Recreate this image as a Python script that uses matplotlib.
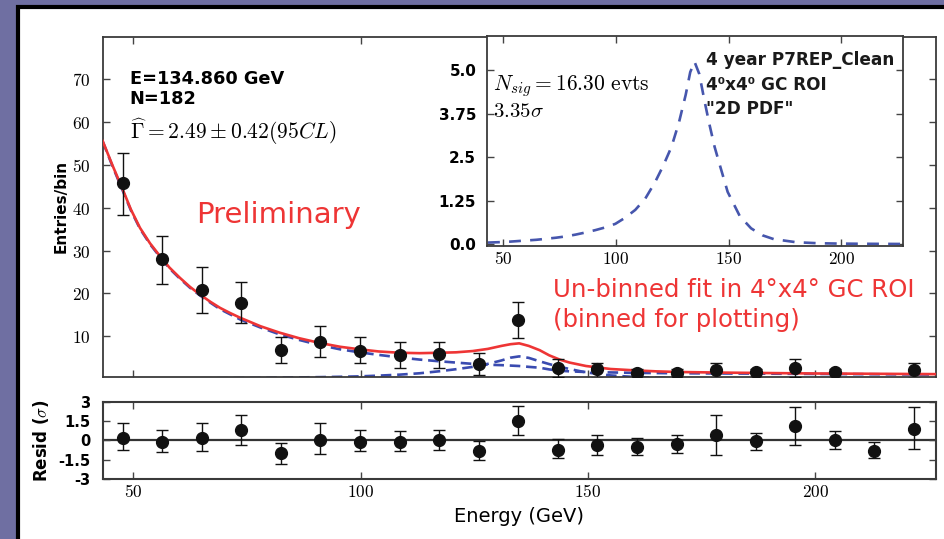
import matplotlib
matplotlib.use("Agg")
import matplotlib.pyplot as plt
from matplotlib.patches import Rectangle

plt.rcParams['mathtext.fontset'] = 'cm'
plt.rcParams['font.family'] = ['DejaVu Sans']

# ---------------- data ----------------
bin_centers = [47.7, 56.4, 65.1, 73.8, 82.5, 91.2, 99.9, 108.6, 117.3, 126.0, 134.7,
               143.4, 152.1, 160.8, 169.5, 178.2, 186.9, 195.6, 204.3, 213.0, 221.7]
counts = [45.7, 28.1, 20.7, 17.8, 6.65, 8.6, 6.5, 5.6, 5.7, 3.5, 13.7,
          2.6, 2.2, 1.4, 1.4, 2.0, 1.5, 2.5, 1.5, float('nan'), 2.0]
counts_hi = [52.8, 33.4, 26.1, 22.6, 9.8, 12.3, 9.8, 8.6, 8.6, 6.1, 17.9,
             4.7, 3.6, 2.2, 2.2, 3.6, 2.2, 4.7, 2.2, float('nan'), 3.6]
counts_lo = [38.2, 22.1, 15.4, 13.0, 3.6, 5.2, 3.6, 2.6, 2.6, 1.0, 9.5,
             0.5, 0.3, 0.1, 0.1, 0.3, 0.1, 0.5, 0.1, float('nan'), 0.3]

resid = [0.18, -0.13, 0.18, 0.82, -0.97, 0.05, -0.13, -0.1, 0.0, -0.79, 1.54,
         -0.72, -0.36, -0.51, -0.26, 0.38, -0.08, 1.13, 0.0, -0.79, 0.9]
resid_hi = [1.34, 0.77, 1.34, 1.95, -0.2, 1.34, 0.77, 0.69, 0.82, -0.08, 2.69,
            0.1, 0.38, 0.18, 0.38, 1.98, 0.57, 2.57, 0.69, -0.13, 2.57]
resid_lo = [-0.72, -0.92, -0.85, -0.33, -1.87, -1.05, -0.85, -0.85, -0.72, -1.56, 0.38,
            -1.36, -1.15, -1.15, -1.02, -1.15, -0.72, -0.33, -0.64, -1.36, -0.64]

model_E = [43.3, 45.5, 47.7, 49.5, 51.5, 53.7, 55.9, 58.0, 60.3, 62.5, 64.7, 67.0, 69.1,
           71.3, 73.5, 78.0, 82.2, 86.5, 91.0, 95.5,
           99.8, 104.0, 108.6, 113.0, 117.4, 121.0, 124.7, 128.0, 131.0, 133.0, 134.9,
           137.0, 139.4, 141.5, 143.8, 146.0, 149.6, 155.0, 160.0, 165.0, 170.0, 180.0,
           190.0, 200.0, 210.0, 226.5]
model_total = [55.6, 49.8, 44.3, 39.6, 35.3, 31.7, 28.7, 26.0, 23.6, 21.5, 19.7, 18.0, 16.6,
               15.4, 14.3, 12.3, 10.8, 9.5, 8.4, 7.5,
               6.9, 6.4, 6.1, 6.0, 6.1, 6.2, 6.5, 7.0, 7.7, 8.1, 8.3,
               7.7, 6.7, 5.5, 4.5, 3.8, 3.0, 2.3, 2.0, 1.75, 1.6, 1.45,
               1.35, 1.25, 1.2, 1.1]
model_bkg = [55.5, 49.6, 44.0, 39.4, 35.1, 31.5, 28.5, 25.8, 23.4, 21.3, 19.5, 17.8, 16.3,
             15.1, 13.9, 12.0, 10.4, 9.1, 7.9, 6.9,
             6.2, 5.6, 5.0, 4.5, 4.1, 3.8, 3.5, 3.3, 3.2, 3.1, 3.0,
             2.8, 2.6, 2.2, 1.9, 1.75, 1.6, 1.5, 1.4, 1.35, 1.3, 1.25,
             1.2, 1.15, 1.1, 1.0]
model_sig = [0.04, 0.045, 0.05, 0.055, 0.06, 0.07, 0.08, 0.09, 0.10, 0.11, 0.12, 0.135, 0.15,
             0.165, 0.18, 0.22, 0.27, 0.33, 0.40, 0.48,
             0.58, 0.75, 0.98, 1.30, 1.78, 2.25, 2.80, 3.50, 4.30, 4.95, 5.25,
             4.90, 4.10, 3.45, 2.80, 2.30, 1.50, 0.80, 0.45, 0.25, 0.14, 0.05,
             0.02, 0.01, 0.005, 0.0]

main_yticks = [10, 20, 30, 40, 50, 60, 70]
energy_ticks = [50, 100, 150, 200]
resid_ticks = [-3, -1.5, 0, 1.5, 3]
resid_ticklabels = ['-3', '-1.5', '0', '1.5', '3']
inset_yticks = [0.0, 1.25, 2.5, 3.75, 5.0]
inset_yticklabels = ['0.0', '1.25', '2.5', '3.75', '5.0']

# ---------------- figure ----------------
W, H = 944, 539
fig = plt.figure(figsize=(W / 100, H / 100), dpi=100, facecolor='#6f6fa2')


def rect(l, t, r, b):
    return [l / W, 1 - b / H, (r - l) / W, (b - t) / H]


def fx(x):
    return x / W


def fy(y):
    return 1 - y / H


# white frame with black border
fig.patches.append(Rectangle((18 / W, -0.1), 1.2, 1.1 - 7 / H, transform=fig.transFigure,
                             facecolor='white', edgecolor='black', linewidth=3.0, zorder=-10))

red = '#ee3535'
blue = '#3a4bb0'
spine_c = '#3a3a3a'

# ---------------- main axes ----------------
ax = fig.add_axes(rect(102.7, 36.7, 935.7, 376.7))
xlim = (43.3, 226.5)
ax.set_xlim(*xlim)
ax.set_ylim(0.5, 80.0)
ax.plot(model_E, model_total, color=red, lw=1.9, zorder=3)
ax.plot(model_E, model_bkg, color=blue, lw=1.9, ls=(0, (4, 2.2)), zorder=2)
ax.plot(model_E, model_sig, color=blue, lw=1.9, ls=(0, (4, 2.2)), zorder=2)
yerr_main = [[c - lo for c, lo in zip(counts, counts_lo)],
             [hi - c for c, hi in zip(counts, counts_hi)]]
ax.errorbar(bin_centers, counts, yerr=yerr_main, fmt='o', color='#111111', ms=8.5,
            elinewidth=1.0, capsize=4, capthick=1.0, zorder=5, clip_on=True)
ax.set_yticks(main_yticks)
ax.set_yticklabels([f'${v}$' for v in main_yticks], fontsize=12.5)
ax.set_xticks(energy_ticks)
ax.tick_params(direction='in', top=True, right=True, length=5, width=1.0,
               labelbottom=False, pad=9, color='#444444')
for s in ax.spines.values():
    s.set_color(spine_c)
    s.set_linewidth(1.3)
ax.set_ylabel('Entries/bin', fontsize=11, fontweight='bold', labelpad=2)

# ---------------- residual axes ----------------
axr = fig.add_axes(rect(102.7, 401.7, 935.7, 479))
axr.set_xlim(*xlim)
axr.set_ylim(-3, 3)
axr.axhline(0, color='#333333', lw=1.6, zorder=1)
yerr_res = [[r - lo for r, lo in zip(resid, resid_lo)],
            [hi - r for r, hi in zip(resid, resid_hi)]]
axr.errorbar(bin_centers, resid, yerr=yerr_res, fmt='o', color='#111111', ms=8.5,
             elinewidth=1.0, capsize=4, capthick=1.0, zorder=5)
axr.set_xticks(energy_ticks)
axr.set_xticklabels([f'${v}$' for v in energy_ticks], fontsize=12.5)
axr.set_yticks(resid_ticks)
axr.set_yticklabels(resid_ticklabels, fontsize=10.5, fontweight='bold')
axr.tick_params(direction='in', top=True, right=True, length=5, width=1.0, color='#444444')
axr.tick_params(axis='x', pad=3)
axr.tick_params(axis='y', pad=9)
for s in axr.spines.values():
    s.set_color(spine_c)
    s.set_linewidth(1.5)
axr.set_ylabel(r'Resid ($\sigma$)', fontsize=12, fontweight='bold', labelpad=5)
axr.set_xlabel('Energy (GeV)', fontsize=14, labelpad=4)

# ---------------- inset ----------------
axi = fig.add_axes(rect(487.3, 35.7, 903.3, 245.7))
axi.set_xlim(43, 227.5)
axi.set_ylim(-0.05, 6.0)
axi.plot(model_E, model_sig, color='#4656ad', lw=1.9, ls=(0, (4.5, 3.5)))
axi.set_xticks(energy_ticks)
axi.set_xticklabels([f'${v}$' for v in energy_ticks], fontsize=12.5)
axi.set_yticks(inset_yticks)
axi.set_yticklabels(inset_yticklabels, fontsize=11, fontweight='bold')
axi.tick_params(direction='in', top=True, right=True, length=5, width=1.0, color='#444444')
axi.tick_params(axis='x', pad=3)
axi.tick_params(axis='y', pad=8)
for s in axi.spines.values():
    s.set_color(spine_c)
    s.set_linewidth(1.3)

# ---------------- texts ----------------
fig.text(fx(129.5), fy(83.5), 'E=134.860 GeV', fontsize=12.8, fontweight='bold', va='baseline')
fig.text(fx(129.5), fy(104.5), 'N=182', fontsize=12.8, fontweight='bold', va='baseline')
fig.text(fx(129.5), fy(139), r'$\widehat{\Gamma} = 2.49 \pm 0.42(95CL)$', fontsize=15.5, va='baseline')
fig.text(fx(196.5), fy(222.7), 'Preliminary', fontsize=21, color=red, va='baseline')
fig.text(fx(553), fy(297), 'Un-binned fit in 4°x4° GC ROI', fontsize=17.6, color=red, va='baseline')
fig.text(fx(553), fy(326.7), '(binned for plotting)', fontsize=17.6, color=red, va='baseline')
fig.text(fx(493), fy(90), r'$N_{sig} = 16.30\ \mathrm{evts}$', fontsize=15.5, va='baseline')
fig.text(fx(493), fy(116.7), r'$3.35\sigma$', fontsize=15, va='baseline')
fig.text(fx(706.5), fy(65), '4 year P7REP_Clean', fontsize=12.2, fontweight='bold',
         color='#1a1a1a', va='baseline')
fig.text(fx(706.5), fy(90), '4⁰x4⁰ GC ROI', fontsize=12.2, fontweight='bold',
         color='#1a1a1a', va='baseline')
fig.text(fx(706.5), fy(113.5), '"2D PDF"', fontsize=12.2, fontweight='bold',
         color='#1a1a1a', va='baseline')

fig.savefig('out.png', dpi=100, facecolor=fig.get_facecolor())
